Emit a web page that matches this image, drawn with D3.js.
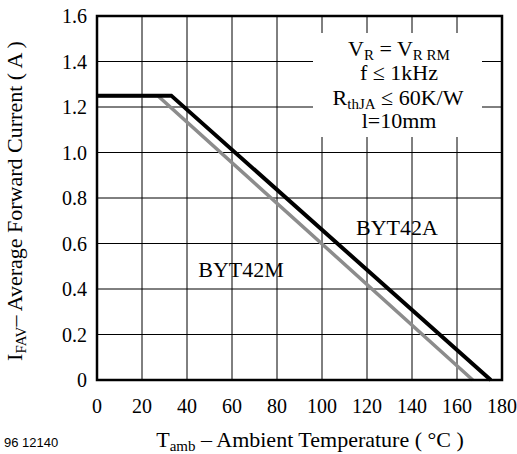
<!DOCTYPE html>
<html>
<head>
<meta charset="utf-8">
<script src="https://cdn.jsdelivr.net/npm/d3@7"></script>
<style>
body { margin: 0; background: #fff; }
svg text, svg tspan { font-family: "Liberation Serif", "Times New Roman", serif; fill: #000; }
</style>
</head>
<body>
<div id="chart"></div>
<script>
"use strict";

// derating curves
var tempA = [0, 33, 175];
var currA = [1.25, 1.25, 0];
var tempM = [0, 27, 167];
var currM = [1.25, 1.25, 0];
var xTicks = [0, 20, 40, 60, 80, 100, 120, 140, 160, 180];
var yTicks = [0, 0.2, 0.4, 0.6, 0.8, 1.0, 1.2, 1.4, 1.6];
var yTickLabels = ["0", "0.2", "0.4", "0.6", "0.8", "1.0", "1.2", "1.4", "1.6"];

var width = 517, height = 454;
var pLeft = 97, pRight = 502, pTop = 16, pBottom = 380;
var fs = 20, lfs = 22, subFs = 15;

var svg = d3.select("#chart").append("svg")
	.attr("width", width)
	.attr("height", height);

var x = d3.scaleLinear().domain([0, 180]).range([pLeft, pRight]);
var y = d3.scaleLinear().domain([0, 1.6]).range([pBottom, pTop]);

// grid
svg.append("g").selectAll("line")
	.data(xTicks.slice(1, -1))
	.enter().append("line")
	.attr("x1", function(d) { return x(d); })
	.attr("x2", function(d) { return x(d); })
	.attr("y1", pTop).attr("y2", pBottom)
	.attr("stroke", "#000").attr("stroke-width", 1);
svg.append("g").selectAll("line")
	.data(yTicks.slice(1, -1))
	.enter().append("line")
	.attr("y1", function(d) { return y(d); })
	.attr("y2", function(d) { return y(d); })
	.attr("x1", pLeft).attr("x2", pRight)
	.attr("stroke", "#000").attr("stroke-width", 1);

// white box behind the conditions text
svg.append("rect")
	.attr("x", 313).attr("y", 33)
	.attr("width", 169).attr("height", 104)
	.attr("fill", "#fff");

// curves
var line = d3.line()
	.x(function(d) { return x(d[0]); })
	.y(function(d) { return y(d[1]); });

svg.append("path")
	.datum(d3.zip(tempM, currM))
	.attr("d", line)
	.attr("fill", "none")
	.attr("stroke", "#8c8c8c")
	.attr("stroke-width", 3.5);
svg.append("path")
	.datum(d3.zip(tempA, currA))
	.attr("d", line)
	.attr("fill", "none")
	.attr("stroke", "#000")
	.attr("stroke-width", 4);

// frame
svg.append("rect")
	.attr("x", pLeft).attr("y", pTop)
	.attr("width", pRight - pLeft).attr("height", pBottom - pTop)
	.attr("fill", "none")
	.attr("stroke", "#000")
	.attr("stroke-width", 2.5);

// axes labels
svg.append("g").selectAll("text")
	.data(xTicks)
	.enter().append("text")
	.attr("x", function(d) { return x(d); })
	.attr("y", 413)
	.attr("text-anchor", "middle")
	.attr("font-size", fs)
	.text(function(d) { return d; });

svg.append("g").selectAll("text")
	.data(yTicks)
	.enter().append("text")
	.attr("x", 87)
	.attr("y", function(d) { return y(d) + 7; })
	.attr("text-anchor", "end")
	.attr("font-size", fs)
	.text(function(d, i) { return yTickLabels[i]; });

// x title
var xt = svg.append("text")
	.attr("x", 310).attr("y", 447)
	.attr("text-anchor", "middle")
	.attr("font-size", lfs);
xt.append("tspan").text("T");
xt.append("tspan").attr("font-size", subFs).attr("dy", 4).text("amb");
xt.append("tspan").attr("dy", -4).text(" \u2013 Ambient Temperature ( \u00b0C )");

// y title
var yt = svg.append("text")
	.attr("transform", "translate(22,201) rotate(-90)")
	.attr("text-anchor", "middle")
	.attr("font-size", lfs);
yt.append("tspan").text("I");
yt.append("tspan").attr("font-size", subFs).attr("dy", 4).text("FAV");
yt.append("tspan").attr("dy", -4).text("\u2013 Average Forward Current ( A )");

svg.append("text")
	.attr("x", 4).attr("y", 447)
	.attr("font-size", 13)
	.style("font-family", "'Liberation Sans', Arial, sans-serif")
	.text("96 12140");

// curve names
svg.append("text").attr("x", 397).attr("y", 235)
	.attr("text-anchor", "middle").attr("font-size", lfs).text("BYT42A");
svg.append("text").attr("x", 241).attr("y", 277)
	.attr("text-anchor", "middle").attr("font-size", lfs).text("BYT42M");

// conditions
var c1 = svg.append("text").attr("x", 399).attr("y", 56)
	.attr("text-anchor", "middle").attr("font-size", lfs);
c1.append("tspan").text("V");
c1.append("tspan").attr("font-size", subFs).attr("dy", 4).text("R");
c1.append("tspan").attr("dy", -4).text(" = V");
c1.append("tspan").attr("font-size", subFs).attr("dy", 4).text("R RM");
svg.append("text").attr("x", 399).attr("y", 80)
	.attr("text-anchor", "middle").attr("font-size", lfs).text("f \u2264 1kHz");
var c3 = svg.append("text").attr("x", 398).attr("y", 105)
	.attr("text-anchor", "middle").attr("font-size", lfs);
c3.append("tspan").text("R");
c3.append("tspan").attr("font-size", subFs).attr("dy", 4).text("thJA");
c3.append("tspan").attr("dy", -4).text(" \u2264 60K/W");
svg.append("text").attr("x", 399).attr("y", 128)
	.attr("text-anchor", "middle").attr("font-size", lfs).text("l=10mm");
</script>
</body>
</html>
